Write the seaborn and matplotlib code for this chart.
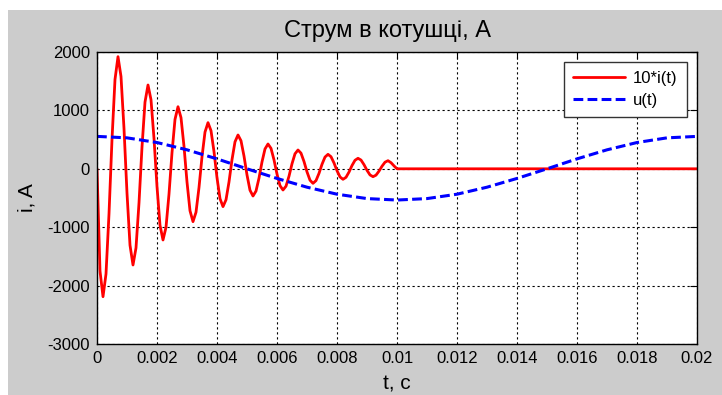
import numpy as np
import pandas as pd
import matplotlib
matplotlib.use("Agg")
import matplotlib.pyplot as plt
import seaborn as sns
from matplotlib.patches import Rectangle

# ---- data ----
t_i = [round(k * 0.0001, 4) for k in range(101)] + [0.02]
i10 = [0, -1750, -2190, -1800, -772, 502, 1530, 1920, 1581, 689,
       -416, -1308, -1647, -1354, -584, 372, 1142, 1435, 1183, 519,
       -303, -967, -1219, -1002, -432, 276, 846, 1063, 876, 384,
       -226, -718, -905, -744, -320, 205, 629, 790, 653, 294,
       -152, -511, -648, -531, -225, 156, 462, 579, 480, 218,
       -105, -367, -466, -381, -159, 118, 340, 425, 350, 153,
       -91, -288, -363, -298, -127, 86, 257, 322, 268, 125,
       -52, -195, -249, -202, -78, 77, 201, 248, 207, 100,
       -32, -139, -180, -146, -56, 56, 146, 180, 150, 71,
       -26, -105, -135, -109, -40, 44, 113, 139, 105, 50,
       0, 0]

t_u = [round(k * 0.001, 3) for k in range(21)]
u = [555, 530, 450, 325, 170, 0, -165, -315, -435, -510, -535,
     -510, -435, -315, -165, 0, 170, 325, 450, 530, 555]

x_ticks = [0, 0.002, 0.004, 0.006, 0.008, 0.01, 0.012, 0.014, 0.016, 0.018, 0.02]
x_labels = ["0", "0.002", "0.004", "0.006", "0.008", "0.01", "0.012", "0.014", "0.016", "0.018", "0.02"]
y_ticks = [-3000, -2000, -1000, 0, 1000, 2000]
y_labels = ["-3000", "-2000", "-1000", "0", "1000", "2000"]

title = "Струм в котушці, А"
xlabel = "t, c"
ylabel = "i, A"
labels = ["10*i(t)", "u(t)"]

df_i = pd.DataFrame({"t": t_i, "v": i10})
df_u = pd.DataFrame({"t": t_u, "v": u})

sns.set_style("white")
plt.rcParams["font.family"] = ["Liberation Sans", "DejaVu Sans"]
plt.rcParams["text.color"] = "black"
plt.rcParams["axes.labelcolor"] = "black"

W, H = 722, 395
fig = plt.figure(figsize=(W / 100, H / 100), dpi=100)
fig.patch.set_facecolor("white")
fig.add_artist(Rectangle((8 / W, 0), 1 - 8 / W, 1 - 10 / H, transform=fig.transFigure,
                         facecolor="#cccccc", edgecolor="none", zorder=-10))

ax = fig.add_axes([97 / W, 1 - 344 / H, 600 / W, 292 / H])
ax.set_facecolor("white")

sns.lineplot(data=df_i, x="t", y="v", ax=ax, color="#ff0000", lw=2.0, label=labels[0],
             estimator=None, sort=False)
sns.lineplot(data=df_u, x="t", y="v", ax=ax, color="#0000ff", lw=2.2, label=labels[1],
             estimator=None, sort=False, linestyle=(0, (3.2, 1.4)))

ax.set_xlim(0, 0.02)
ax.set_ylim(-3000, 2000)
ax.set_xticks(x_ticks)
ax.set_xticklabels(x_labels)
ax.set_yticks(y_ticks)
ax.set_yticklabels(y_labels)

ax.grid(True, color="black", linestyle=(0, (2, 2.5)), lw=0.8)
ax.tick_params(direction="in", length=5, width=0.8, top=True, right=True,
               labelsize=12, colors="black", pad=5)
for s in ax.spines.values():
    s.set_visible(True)
    s.set_color("black")
    s.set_linewidth(1.0)

ax.set_title(title, fontsize=17, pad=11, x=0.485, color="black")
ax.set_xlabel(xlabel, fontsize=15, labelpad=6, color="black")
ax.set_ylabel(ylabel, fontsize=15, labelpad=8, color="black")

leg = ax.legend(loc="upper right", fontsize=12, frameon=True, fancybox=False,
                edgecolor="#333333", framealpha=1, handlelength=3.1,
                borderaxespad=0.6, labelspacing=0.4, handletextpad=0.5,
                borderpad=0.55)
leg.get_frame().set_linewidth(1.0)
for txt in leg.get_texts():
    txt.set_color("black")

fig.savefig("out.png", dpi=100, facecolor=fig.get_facecolor())
